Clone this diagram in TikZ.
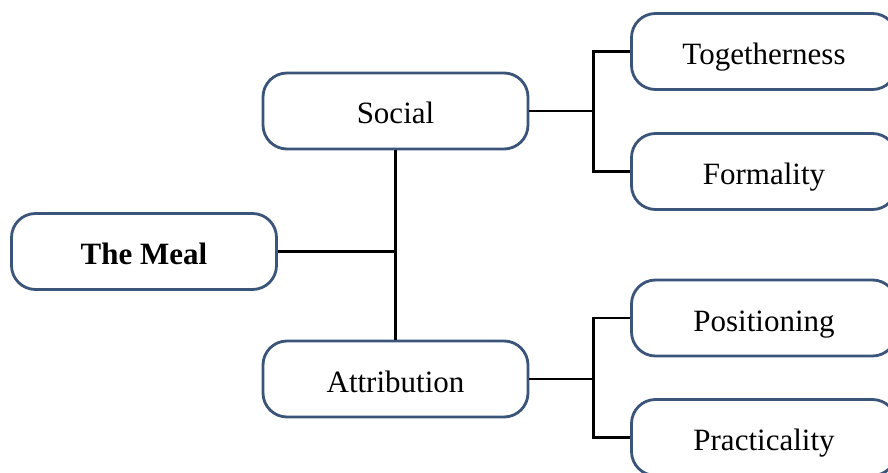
\documentclass[tikz,border=0pt]{standalone}
\usepackage{fontspec}
\setmainfont{Liberation Serif}
\usepackage{tikz}
\usetikzlibrary{positioning}
\definecolor{boxline}{RGB}{59,84,122}

\begin{document}
\begin{tikzpicture}[x=1pt,y=-1pt,line width=2.6pt,on grid,
  box/.style={draw=boxline,line width=2.8pt,fill=white,rounded corners=24pt,minimum width=265pt,
    minimum height=76pt,inner sep=0pt,text height=26pt,text depth=0pt,
    font=\fontsize{31}{37}\selectfont},
  mainbox/.style={box,font=\fontsize{31}{37}\selectfont\bfseries}]
 \useasboundingbox (0,0) rectangle (888,473);
 \clip (0,0) rectangle (888,473);

 \node[mainbox] (meal)                                            at (144,251.5) {The Meal};
 \node[box]     (social) [above right=140.5pt and 251.5pt of meal]                {Social};
 \node[box]     (attr)   [below right=127.5pt and 251.5pt of meal]                {Attribution};
 \node[box]     (tog)    [above right=59.5pt and 368.5pt of social]              {Togetherness};
 \node[box]     (form)   [below right=60.5pt and 368.5pt of social]              {Formality};
 \node[box]     (pos)    [above right=61pt and 368.5pt of attr]                  {Positioning};
 \node[box]     (prac)   [below right=58.5pt and 368.5pt of attr]                {Practicality};

 \coordinate[right=64pt of social.east] (sj);
 \coordinate[right=64pt of attr.east]   (aj);

 \draw (social.south) -- (attr.north);
 \draw (meal) -- (meal -| social);
 \draw (social) -- (sj);
 \draw (tog.west) -| (sj) |- (form.west);
 \draw (attr) -- (aj);
 \draw (pos.west) -| (aj) |- (prac.west);
\end{tikzpicture}
\end{document}
